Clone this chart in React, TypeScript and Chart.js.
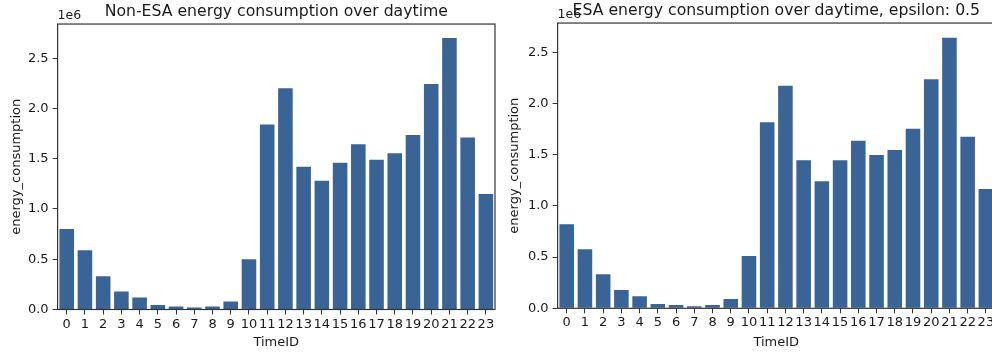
import React, { useEffect, useRef } from "react";
import { Chart, registerables } from "chart.js";

Chart.register(...registerables);

const timeIds = ["0","1","2","3","4","5","6","7","8","9","10","11","12","13","14","15","16","17","18","19","20","21","22","23"];

const nonEsaValues = [0.80e6, 0.59e6, 0.33e6, 0.18e6, 0.12e6, 0.045e6, 0.03e6, 0.02e6, 0.03e6, 0.08e6, 0.50e6, 1.84e6, 2.20e6, 1.42e6, 1.28e6, 1.46e6, 1.645e6, 1.49e6, 1.555e6, 1.735e6, 2.243e6, 2.70e6, 1.71e6, 1.15e6];

const esaValues = [0.82e6, 0.576e6, 0.332e6, 0.179e6, 0.117e6, 0.042e6, 0.032e6, 0.02e6, 0.032e6, 0.091e6, 0.511e6, 1.816e6, 2.174e6, 1.445e6, 1.24e6, 1.445e6, 1.637e6, 1.497e6, 1.546e6, 1.754e6, 2.236e6, 2.643e6, 1.676e6, 1.165e6];

const yTickValues = [0, 0.5e6, 1.0e6, 1.5e6, 2.0e6, 2.5e6];

const FONT = "'DejaVu Sans', sans-serif";
const BAR_COLOR = "#3a6496";
const SPINE = "#333333";
const TEXT = "#1a1a1a";

type PanelProps = {
  title: string;
  values: number[];
  yMax: number;
  titlePadTop: number;
  titlePadBottom: number;
  xAxisHeight: number;
  yTitlePad: number;
};

const framePlugin = {
  id: "frame",
  afterDraw(chart: any) {
    const { ctx, chartArea } = chart;
    ctx.save();
    ctx.strokeStyle = SPINE;
    ctx.lineWidth = 1.2;
    ctx.strokeRect(chartArea.left, chartArea.top, chartArea.right - chartArea.left, chartArea.bottom - chartArea.top);
    ctx.fillStyle = TEXT;
    ctx.font = `12.5px ${FONT}`;
    ctx.textAlign = "left";
    ctx.textBaseline = "bottom";
    ctx.fillText("1e6", chartArea.left, chartArea.top - 2);
    ctx.restore();
  },
};

function Panel(props: PanelProps) {
  const ref = useRef<HTMLCanvasElement | null>(null);
  useEffect(() => {
    if (!ref.current) return;
    const chart = new Chart(ref.current, {
      type: "bar",
      data: {
        labels: timeIds,
        datasets: [
          {
            data: props.values,
            backgroundColor: BAR_COLOR,
            borderWidth: 0,
            barPercentage: 0.8,
            categoryPercentage: 1.0,
          },
        ],
      },
      options: {
        responsive: false,
        animation: false,
        devicePixelRatio: 1,
        layout: { padding: { left: 0, right: 5, top: 0, bottom: 0 } },
        plugins: {
          legend: { display: false },
          tooltip: { enabled: false },
          title: {
            display: true,
            text: props.title,
            fullSize: false,
            color: TEXT,
            font: { family: FONT, size: 15.7, weight: "normal" },
            padding: { top: props.titlePadTop, bottom: props.titlePadBottom },
          },
        },
        scales: {
          x: {
            type: "category",
            offset: true,
            grid: { display: true, drawOnChartArea: false, drawTicks: true, tickLength: 5, color: SPINE, offset: false },
            border: { display: false },
            ticks: { color: TEXT, font: { family: FONT, size: 13 }, padding: 2, maxRotation: 0, autoSkip: false },
            title: { display: true, text: "TimeID", color: TEXT, font: { family: FONT, size: 13 }, padding: { top: 0, bottom: 4.5 } },
            afterFit(scale: any) {
              scale.height = props.xAxisHeight;
            },
          },
          y: {
            type: "linear",
            min: 0,
            max: props.yMax,
            grid: { display: true, drawOnChartArea: false, drawTicks: true, tickLength: 5, color: SPINE },
            border: { display: false },
            ticks: {
              color: TEXT,
              font: { family: FONT, size: 13 },
              padding: 4,
              stepSize: 0.5e6,
              callback: (v: any) => (Number(v) / 1e6).toFixed(1),
            },
            afterBuildTicks(scale: any) {
              scale.ticks = yTickValues.map((v) => ({ value: v }));
            },
            title: { display: true, text: "energy_consumption", color: TEXT, font: { family: FONT, size: 13 }, padding: { top: props.yTitlePad, bottom: 0 } },
            afterFit(scale: any) {
              scale.width = 57.6;
            },
          },
        },
      },
      plugins: [framePlugin],
    } as any);
    return () => chart.destroy();
  }, []);
  return <canvas ref={ref} width={500} height={355} style={{ display: "block", width: 500, height: 355 }} />;
}

export default function App() {
  return (
    <div style={{ position: "fixed", left: 0, top: 0, width: 992, height: 355, overflow: "hidden", background: "#fff" }}>
      <div style={{ position: "absolute", left: 0, top: 0 }}>
        <Panel
          title="Non-ESA energy consumption over daytime"
          values={nonEsaValues}
          yMax={2.84e6}
          titlePadTop={2.5}
          titlePadBottom={2.7}
          xAxisHeight={45.5}
          yTitlePad={8.5}
        />
      </div>
      <div style={{ position: "absolute", left: 500, top: 0 }}>
        <Panel
          title="ESA energy consumption over daytime, epsilon: 0.5"
          values={esaValues}
          yMax={2.786e6}
          titlePadTop={2}
          titlePadBottom={2.2}
          xAxisHeight={46.7}
          yTitlePad={6.5}
        />
      </div>
    </div>
  );
}
